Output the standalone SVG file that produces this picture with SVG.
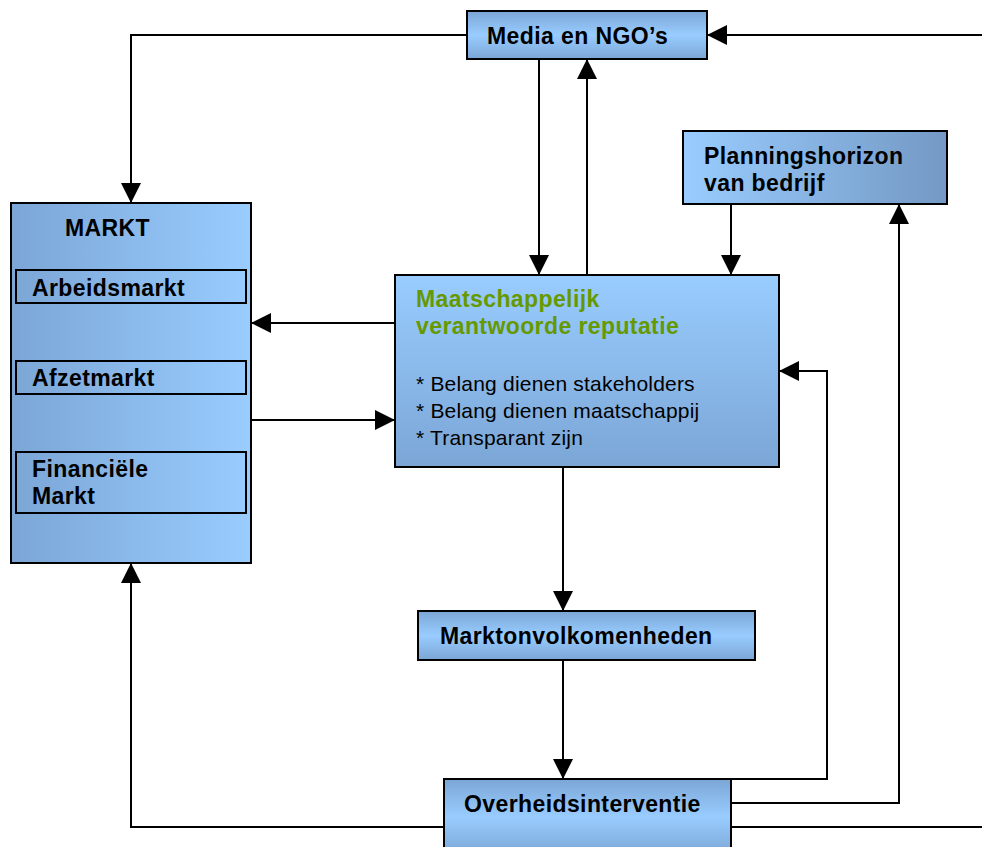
<svg xmlns="http://www.w3.org/2000/svg" width="982" height="847" viewBox="0 0 982 847">
<defs>
<linearGradient id="gV3" x1="0" y1="0" x2="0" y2="1">
<stop offset="0" stop-color="#7BA6D6"/><stop offset="0.5" stop-color="#99CCFF"/><stop offset="1" stop-color="#7BA6D6"/>
</linearGradient>
<linearGradient id="gH_dl" x1="0" y1="0" x2="1" y2="0">
<stop offset="0" stop-color="#7BA6D6"/><stop offset="1" stop-color="#99CCFF"/>
</linearGradient>
<linearGradient id="gH_ld" x1="0" y1="0" x2="1" y2="0">
<stop offset="0" stop-color="#99CCFF"/><stop offset="1" stop-color="#7499C4"/>
</linearGradient>
<linearGradient id="gV_ld" x1="0" y1="0" x2="0" y2="1">
<stop offset="0" stop-color="#99CCFF"/><stop offset="1" stop-color="#7BA6D6"/>
</linearGradient>
<marker id="arr" markerWidth="20" markerHeight="20" refX="20" refY="10" orient="auto" markerUnits="userSpaceOnUse">
<path d="M0,0 L20,10 L0,20 Z" fill="#000"/>
</marker>
</defs>
<style>
.box{stroke:#000;stroke-width:2}
.sub{fill:none;stroke:#000;stroke-width:2}
.lbl{font-family:"Liberation Sans",Arial,sans-serif;font-weight:bold;font-size:23px;letter-spacing:0.4px;fill:#000}
.grn{font-family:"Liberation Sans",Arial,sans-serif;font-weight:bold;font-size:23px;letter-spacing:0.4px;fill:#669900}
.txt{font-family:"Liberation Sans",Arial,sans-serif;font-size:21px;letter-spacing:0.2px;fill:#000}
.con{fill:none;stroke:#000;stroke-width:2;marker-end:url(#arr)}
.plain{fill:none;stroke:#000;stroke-width:2}
</style>
<rect width="982" height="847" fill="#fff"/>
<g id="connectors">
<path class="con" d="M467,35 H131 V203"/>
<path class="con" d="M982,35 H707"/>
<path class="con" d="M539,59 V275"/>
<path class="con" d="M587,275 V59"/>
<path class="con" d="M731,204 V275"/>
<path class="con" d="M395,323 H251"/>
<path class="con" d="M251,420 H395"/>
<path class="con" d="M563,467 V611"/>
<path class="con" d="M563,660 V779"/>
<path class="con" d="M731,779 H827 V371 H779"/>
<path class="con" d="M731,803 H899 V204"/>
<path class="con" d="M444,827 H131 V563"/>
<path class="plain" d="M731,827 H982"/>
</g>
<g id="media">
<rect class="box" x="467" y="11" width="240" height="48" fill="url(#gV3)"/>
<text class="lbl" x="487" y="44">Media en NGO’s</text>
</g>
<g id="planning">
<rect class="box" x="683" y="131" width="264" height="73" fill="url(#gH_ld)"/>
<text class="lbl" x="704" y="164">Planningshorizon</text>
<text class="lbl" x="704" y="191">van bedrijf</text>
</g>
<g id="markt">
<rect class="box" x="11" y="203" width="240" height="360" fill="url(#gH_dl)"/>
<text class="lbl" x="65" y="236">MARKT</text>
<rect class="sub" x="16" y="270" width="230" height="33"/>
<text class="lbl" x="32" y="296">Arbeidsmarkt</text>
<rect class="sub" x="16" y="361" width="230" height="33"/>
<text class="lbl" x="32" y="386">Afzetmarkt</text>
<rect class="sub" x="16" y="452" width="230" height="61"/>
<text class="lbl" x="32" y="477">Financiële</text>
<text class="lbl" x="32" y="504">Markt</text>
</g>
<g id="reputatie">
<rect class="box" x="395" y="275" width="384" height="192" fill="url(#gV_ld)"/>
<text class="grn" x="416" y="307">Maatschappelijk</text>
<text class="grn" x="416" y="334">verantwoorde reputatie</text>
<text class="txt" x="416" y="391">* Belang dienen stakeholders</text>
<text class="txt" x="416" y="418">* Belang dienen maatschappij</text>
<text class="txt" x="416" y="445">* Transparant zijn</text>
</g>
<g id="marktonvolkomenheden">
<rect class="box" x="418" y="611" width="337" height="49" fill="url(#gV3)"/>
<text class="lbl" x="440" y="644">Marktonvolkomenheden</text>
</g>
<g id="overheidsinterventie">
<rect class="box" x="444" y="779" width="287" height="76" fill="url(#gV3)"/>
<text class="lbl" x="464" y="812">Overheidsinterventie</text>
</g>
</svg>
